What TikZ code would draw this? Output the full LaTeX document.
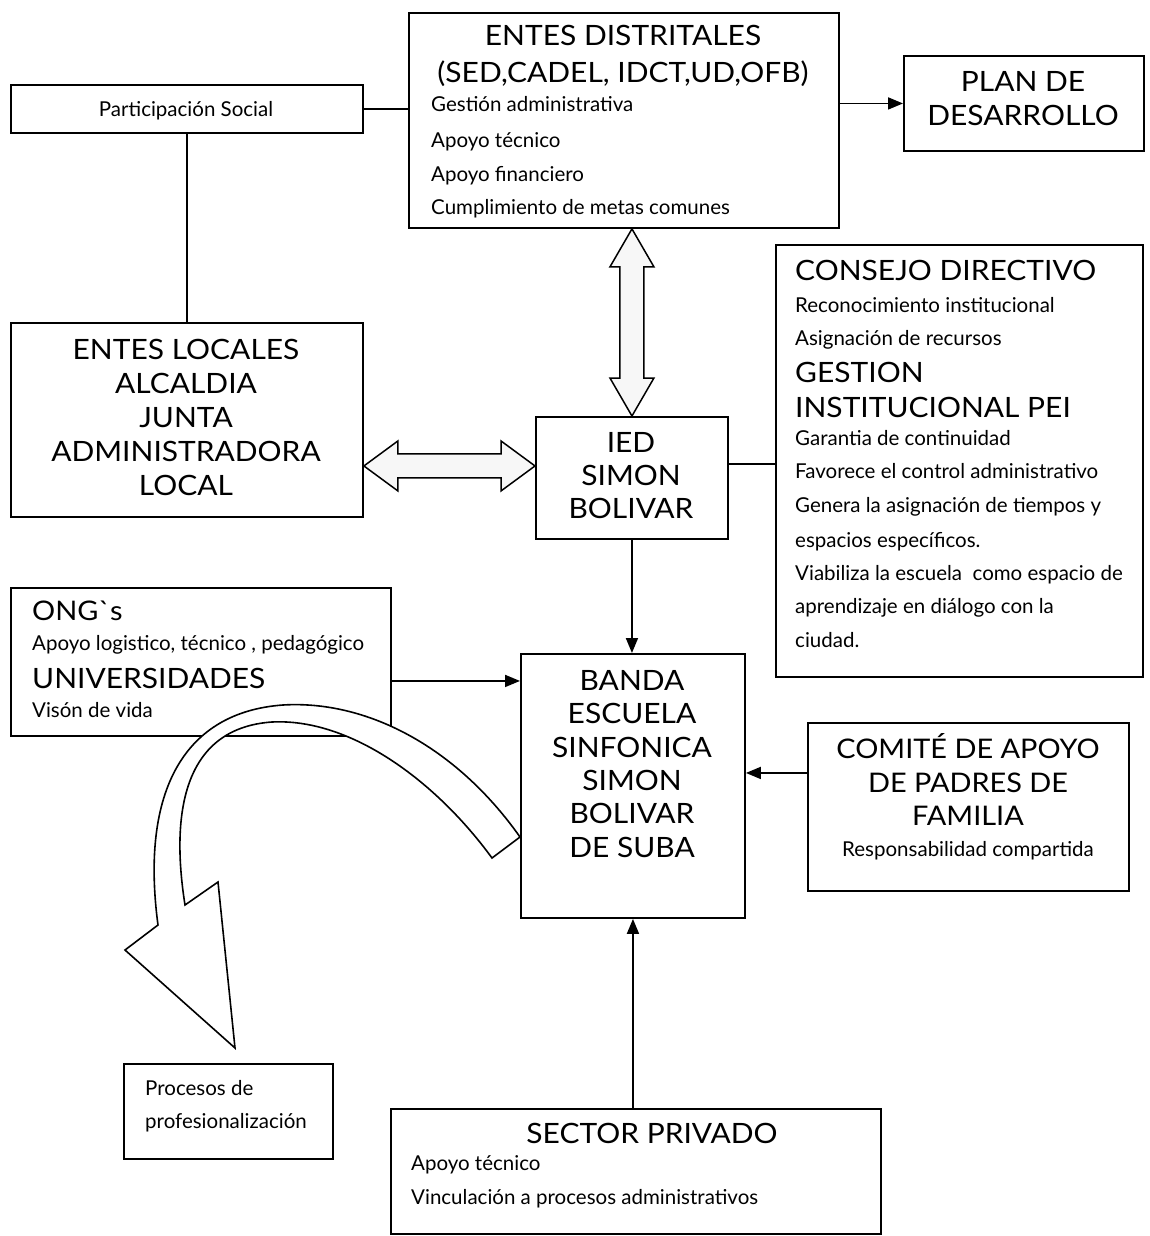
\documentclass[tikz,border=0pt]{standalone}
\usepackage{fontspec}
\setmainfont{Lato}
\newfontfamily\widefont{Lato}[FakeStretch=1.07]
\usetikzlibrary{arrows.meta,calc}
\begin{document}
\begin{tikzpicture}[x=1pt,y=-1pt,
  box/.style={draw,line width=1.9pt,inner sep=0pt,anchor=north west},
  big/.style={font=\widefont\fontsize{28}{33}\selectfont,inner sep=0pt},
  mid/.style={font=\widefont\fontsize{27}{33}\selectfont,inner sep=0pt},
  sml/.style={font=\fontsize{20.5}{34}\selectfont,inner sep=0pt},
  conn/.style={line width=1.8pt},
  arr/.style={line width=1.8pt,-{Triangle[length=15pt,width=12pt]}},
  hollow/.style={draw,line width=1.5pt,fill=gray!6,line join=miter},
  curved/.style={draw,line width=1.6pt,fill=white,line join=miter}
]
\useasboundingbox (0,0) rectangle (1149,1236);

% boxes
\node[box,minimum width=352,minimum height=48] (ps) at (10,84) {};
\node[box,minimum width=430,minimum height=215] (ed) at (408,12) {};
\node[box,minimum width=240,minimum height=95] (plan) at (903,55) {};
\node[box,minimum width=352,minimum height=194] (el) at (10,322) {};
\node[box,minimum width=192,minimum height=122] (ied) at (535,416) {};
\node[box,minimum width=367,minimum height=432] (cd) at (775,244) {};
\node[box,minimum width=380,minimum height=148] (ong) at (10,587) {};
\node[box,minimum width=224,minimum height=264] (banda) at (520,653) {};
\node[box,minimum width=321,minimum height=168] (cap) at (807,722) {};
\node[box,minimum width=209,minimum height=95] (proc) at (123,1063) {};
\node[box,minimum width=490,minimum height=125] (sp) at (390,1108) {};

% texts: Participacion
\node[sml,anchor=base] (pst) at (186,117) {Participación Social};

% Entes distritales
\node[big,anchor=base] (edt1) at (623,46) {ENTES DISTRITALES};
\node[big,anchor=base] (edt2) at (623,83) {(SED,CADEL, IDCT,UD,OFB)};
\node[sml,anchor=base west] (edt3) at (431,112) {Gestión administrativa};
\node[sml,anchor=base west] (edt4) at (431,147) {Apoyo técnico};
\node[sml,anchor=base west] (edt5) at (431,181) {Apoyo financiero};
\node[sml,anchor=base west] (edt6) at (431,214) {Cumplimiento de metas comunes};

% Plan
\node[big,anchor=base] (plt1) at (1023,92) {PLAN DE};
\node[big,anchor=base] (plt2) at (1023,125) {DESARROLLO};

% Entes locales
\node[big,anchor=base] (elt1) at (186,359) {ENTES LOCALES};
\node[big,anchor=base] (elt2) at (186,393) {ALCALDIA};
\node[big,anchor=base] (elt3) at (186,427) {JUNTA};
\node[big,anchor=base] (elt4) at (186,461) {ADMINISTRADORA};
\node[big,anchor=base] (elt5) at (186,495) {LOCAL};

% IED
\node[big,anchor=base] (iedt1) at (631,452) {IED};
\node[big,anchor=base] (iedt2) at (631,485) {SIMON};
\node[big,anchor=base] (iedt3) at (631,518) {BOLIVAR};

% Consejo directivo
\node[big,anchor=base west] (cdt1) at (795,280) {CONSEJO DIRECTIVO};
\node[sml,anchor=base west] (cdt2) at (795,312) {Reconocimiento institucional};
\node[sml,anchor=base west] (cdt3) at (795,345) {Asignación de recursos};
\node[big,anchor=base west] (cdt4) at (795,382) {GESTION};
\node[big,anchor=base west] (cdt5) at (795,417) {INSTITUCIONAL PEI};
\node[sml,anchor=base west] (cdt6) at (795,445) {Garantia de continuidad};
\node[sml,anchor=base west] (cdt7) at (795,478) {Favorece el control administrativo};
\node[sml,anchor=base west] (cdt8) at (795,512) {Genera la asignación de tiempos y};
\node[sml,anchor=base west] (cdt9) at (795,547) {espacios específicos.};
\node[sml,anchor=base west] (cdt10) at (795,580) {Viabiliza la escuela\ \ como espacio de};
\node[sml,anchor=base west] (cdt11) at (795,613) {aprendizaje en diálogo con la};
\node[sml,anchor=base west] (cdt12) at (795,647) {ciudad.};

% ONG
\node[mid,anchor=base west] (ongt1) at (32,620) {ONG{\char96}s};
\node[sml,anchor=base west] (ongt2) at (32,650) {Apoyo logistico, técnico , pedagógico};
\node[big,anchor=base west] (ongt3) at (32,688) {UNIVERSIDADES};
\node[sml,anchor=base west] (ongt4) at (32,717) {Visón de vida};

% Banda
\node[big,anchor=base] (bt1) at (632,690) {BANDA};
\node[big,anchor=base] (bt2) at (632,723) {ESCUELA};
\node[big,anchor=base] (bt3) at (632,757) {SINFONICA};
\node[big,anchor=base] (bt4) at (632,790) {SIMON};
\node[big,anchor=base] (bt5) at (632,823) {BOLIVAR};
\node[big,anchor=base] (bt6) at (632,857) {DE SUBA};

% Comite
\node[mid,anchor=base] (ct1) at (968,758) {COMITÉ DE APOYO};
\node[mid,anchor=base] (ct2) at (968,792) {DE PADRES DE};
\node[mid,anchor=base] (ct3) at (968,825) {FAMILIA};
\node[sml,anchor=base] (ct4) at (968,856) {Responsabilidad compartida};

% Procesos
\node[sml,anchor=base west] (prt1) at (145,1095) {Procesos de};
\node[sml,anchor=base west] (prt2) at (145,1128) {profesionalización};

% Sector privado
\node[big,anchor=base] (spt1) at (652,1143) {SECTOR PRIVADO};
\node[sml,anchor=base west] (spt2) at (411,1170) {Apoyo técnico};
\node[sml,anchor=base west] (spt3) at (411,1204) {Vinculación a procesos administrativos};

% connectors
\draw[conn] (ps.east) -- (ps.east -| ed.west);
\draw[conn] (ps.south) -- (ps.south |- el.north);
\draw[arr] (ed.east |- plan.west) -- (plan.west);
\draw[conn] ([yshift=14pt]ied.east) -- ([yshift=14pt]ied.east -| cd.west);
\draw[arr] (ied.south) -- (ied.south |- banda.north);
\draw[arr] ([yshift=-19pt]ong.east) -- ([yshift=-19pt]ong.east -| banda.west);
\draw[arr] ([yshift=34pt]cap.west) -- ([yshift=34pt]cap.west -| banda.east);
\draw[arr] (banda.south |- sp.north) -- (banda.south);

% hollow double arrows
\coordinate (hl) at ($(el.east |- ied.west)+(0,-12)$);
\coordinate (hr) at ($(ied.west)+(0,-12)$);
\draw[hollow] (hl) -- ($(hl)+(34,-25)$) -- ($(hl)+(34,-12)$) -- ($(hr)+(-34,-12)$) -- ($(hr)+(-34,-25)$) -- (hr) -- ($(hr)+(-34,25)$) -- ($(hr)+(-34,12)$) -- ($(hl)+(34,12)$) -- ($(hl)+(34,25)$) -- cycle;

\coordinate (vt) at (ied.north |- ed.south);
\coordinate (vb) at (ied.north);
\draw[hollow] (vt) -- ($(vt)+(22,38)$) -- ($(vt)+(12,38)$) -- ($(vb)+(12,-38)$) -- ($(vb)+(22,-38)$) -- (vb) -- ($(vb)+(-22,-38)$) -- ($(vb)+(-12,-38)$) -- ($(vt)+(-12,38)$) -- ($(vt)+(-22,38)$) -- cycle;

% big curved arrow
\draw[curved] (520,837) .. controls (455,745) and (365,700) .. (283,705)
  .. controls (185,712) and (140,790) .. (158,925)
  -- (125,950) -- (235,1048) -- (218,882) -- (185,905)
  .. controls (170,810) and (185,728) .. (272,722)
  .. controls (350,718) and (435,780) .. (492,858) -- cycle;
\end{tikzpicture}
\end{document}
